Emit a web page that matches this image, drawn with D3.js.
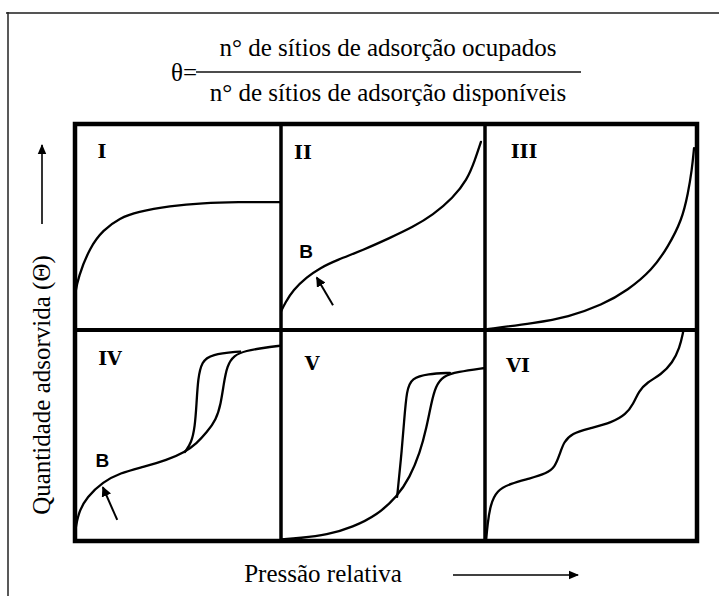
<!DOCTYPE html>
<html>
<head>
<meta charset="utf-8">
<script src="https://cdn.jsdelivr.net/npm/d3@7"></script>
<style>
  html, body { margin: 0; padding: 0; background: #fff; }
  svg { display: block; }
  .serif { font-family: "Liberation Serif", Tinos, "Times New Roman", "Noto Serif", "DejaVu Serif", serif; font-size: 25px; }
  .roman { font-family: "DejaVu Serif", serif; font-weight: bold; font-size: 19px; }
  .pointB { font-family: "Liberation Sans", Arial, sans-serif; font-weight: bold; font-size: 19px; }
</style>
</head>
<body>
<svg id="chart" width="719" height="596"></svg>
<script>
// Isotherm types I–VI (IUPAC): relative pressure (x, 0–1) vs amount adsorbed (y, 0–1)
const panelLabels = ["I", "II", "III", "IV", "V", "VI"];
const titleNumerator = "n\u00B0 de s\u00EDtios de adsor\u00E7\u00E3o ocupados";
const titleDenominator = "n\u00B0 de s\u00EDtios de adsor\u00E7\u00E3o dispon\u00EDveis";
const yLabel = "Quantidade adsorvida (\u0398)";
const xLabel = "Press\u00E3o relativa";

const isoI = [[0,0.17],[0.015,0.257],[0.073,0.403],[0.136,0.485],[0.218,0.544],[0.301,0.573],
  [0.461,0.602],[0.621,0.617],[0.786,0.621],[1.0,0.621]];
const isoII = [[0.0,0.09],[0.02,0.131],[0.059,0.194],[0.127,0.257],[0.191,0.301],[0.275,0.340],
  [0.402,0.388],[0.534,0.447],[0.647,0.500],[0.745,0.558],[0.843,0.641],[0.912,0.728],
  [0.951,0.825],[0.980,0.913]];
const isoIII = [[0.0,0.003],[0.236,0.034],[0.392,0.063],[0.552,0.121],[0.675,0.194],[0.788,0.291],
  [0.863,0.403],[0.929,0.534],[0.958,0.665],[0.976,0.777],[0.986,0.883]];
// type IV: adsorption branch and desorption branch (hysteresis loop)
const isoIVads = [[0.0,0.04],[0.015,0.133],[0.058,0.209],[0.136,0.280],[0.218,0.322],[0.330,0.351],
  [0.447,0.384],[0.534,0.422],[0.590,0.462],[0.640,0.515],[0.685,0.575],[0.708,0.650],
  [0.722,0.745],[0.738,0.830],[0.770,0.880],[0.830,0.902],[0.913,0.915],[1.0,0.926]];
const isoIVdes = [[0.534,0.422],[0.565,0.465],[0.582,0.540],[0.590,0.650],[0.597,0.770],
  [0.615,0.850],[0.660,0.885],[0.801,0.898]];
// type V: adsorption branch and desorption branch
const isoVads = [[0.0,0.008],[0.093,0.014],[0.225,0.028],[0.353,0.066],[0.471,0.123],[0.569,0.209],
  [0.632,0.303],[0.681,0.417],[0.714,0.540],[0.736,0.650],[0.758,0.735],[0.795,0.782],
  [0.863,0.801],[1.0,0.820]];
const isoVdes = [[0.569,0.209],[0.588,0.384],[0.604,0.573],[0.616,0.715],[0.640,0.772],
  [0.720,0.792],[0.828,0.797]];
const isoVI = [[0.005,0.0],[0.012,0.080],[0.025,0.170],[0.055,0.240],[0.120,0.272],[0.210,0.296],
  [0.290,0.320],[0.330,0.350],[0.352,0.410],[0.372,0.470],[0.410,0.510],[0.490,0.533],
  [0.600,0.562],[0.665,0.600],[0.700,0.650],[0.725,0.710],[0.765,0.752],[0.830,0.788],
  [0.885,0.845],[0.918,0.915],[0.934,0.986],[0.94,1.02]];

// point B markers (knee of types II and IV), in panel units
const pointB = [
  { panel: 1, label: [0.123, 0.35], tail: [0.255, 0.12], tip: [0.175, 0.255] },
  { panel: 3, label: [0.133, 0.35], tail: [0.205, 0.10], tip: [0.135, 0.255] }
];

const panelSeries = [[isoI], [isoII], [isoIII], [isoIVads, isoIVdes], [isoVads, isoVdes], [isoVI]];

const svg = d3.select("#chart");
const colEdges = [75, 281, 485, 697];
const rowEdges = [124, 330, 541];

// page frame
svg.append("line").attr("x1", 6).attr("x2", 719).attr("y1", 13).attr("y2", 13)
  .attr("stroke", "#555").attr("stroke-width", 2);
svg.append("line").attr("x1", 8).attr("x2", 8).attr("y1", 12).attr("y2", 596)
  .attr("stroke", "#222").attr("stroke-width", 1.5);

// formula
const cx = 388;
svg.append("text").attr("class", "serif").attr("x", cx).attr("y", 56)
  .attr("text-anchor", "middle").text(titleNumerator);
svg.append("text").attr("class", "serif").attr("x", cx).attr("y", 101)
  .attr("text-anchor", "middle").text(titleDenominator);
svg.append("line").attr("x1", 196).attr("x2", 581).attr("y1", 72).attr("y2", 72)
  .attr("stroke", "#111").attr("stroke-width", 1.6);
svg.append("text").attr("class", "serif").attr("x", 197).attr("y", 81)
  .attr("text-anchor", "end").text("\u03B8=");

// arrow markers
const defs = svg.append("defs");
defs.append("marker").attr("id", "ah").attr("viewBox", "0 0 10 10")
  .attr("refX", 9).attr("refY", 5).attr("markerWidth", 6.5).attr("markerHeight", 6.5)
  .attr("markerUnits", "strokeWidth").attr("orient", "auto")
  .append("path").attr("d", "M0,0.8 L10,5 L0,9.2 Z").attr("fill", "#000");
defs.append("marker").attr("id", "ahB").attr("viewBox", "0 0 10 10")
  .attr("refX", 9).attr("refY", 5).attr("markerWidth", 5).attr("markerHeight", 5)
  .attr("markerUnits", "strokeWidth").attr("orient", "auto")
  .append("path").attr("d", "M0,0 L10,5 L0,10 Z").attr("fill", "#000");

// panels
panelLabels.forEach((lab, i) => {
  const c = i % 3, r = Math.floor(i / 3);
  const x = d3.scaleLinear().domain([0, 1]).range([colEdges[c], colEdges[c + 1]]);
  const y = d3.scaleLinear().domain([0, 1]).range([rowEdges[r + 1], rowEdges[r]]);
  const id = "clip" + i;
  defs.append("clipPath").attr("id", id).append("rect")
    .attr("x", colEdges[c]).attr("y", rowEdges[r])
    .attr("width", colEdges[c + 1] - colEdges[c]).attr("height", rowEdges[r + 1] - rowEdges[r]);
  const g = svg.append("g").attr("clip-path", `url(#${id})`);
  const line = d3.line().x(d => x(d[0])).y(d => y(d[1])).curve(d3.curveBasis);
  panelSeries[i].forEach(s => {
    g.append("path").attr("d", line(s)).attr("fill", "none")
      .attr("stroke", "#000").attr("stroke-width", 2.3).attr("stroke-linecap", "round");
  });
  svg.append("text").attr("class", "roman")
    .attr("x", x(0) + [27, 22, 39, 35, 31, 33][i])
    .attr("y", y(1) + [34, 35, 34, 35, 40, 42][i])
    .attr("text-anchor", "middle").text(lab);
  pointB.filter(p => p.panel === i).forEach(p => {
    svg.append("text").attr("class", "pointB").attr("x", x(p.label[0])).attr("y", y(p.label[1]))
      .attr("text-anchor", "middle").text("B");
    svg.append("line").attr("x1", x(p.tail[0])).attr("y1", y(p.tail[1]))
      .attr("x2", x(p.tip[0])).attr("y2", y(p.tip[1]))
      .attr("stroke", "#000").attr("stroke-width", 2).attr("marker-end", "url(#ahB)");
  });
});

// grid of panel borders
svg.append("line").attr("x1", colEdges[0]).attr("x2", colEdges[3]).attr("y1", rowEdges[1]).attr("y2", rowEdges[1])
  .attr("stroke", "#000").attr("stroke-width", 4);
[colEdges[1], colEdges[2]].forEach(cxv => {
  svg.append("line").attr("x1", cxv).attr("x2", cxv).attr("y1", rowEdges[0]).attr("y2", rowEdges[2])
    .attr("stroke", "#000").attr("stroke-width", 3.5);
});
svg.append("rect").attr("x", colEdges[0]).attr("y", rowEdges[0])
  .attr("width", colEdges[3] - colEdges[0]).attr("height", rowEdges[2] - rowEdges[0])
  .attr("fill", "none").attr("stroke", "#000").attr("stroke-width", 4.5);

// axis captions with arrows
svg.append("text").attr("class", "serif").attr("transform", "translate(50,385) rotate(-90)")
  .attr("text-anchor", "middle").text(yLabel);
svg.append("line").attr("x1", 42).attr("x2", 42).attr("y1", 224).attr("y2", 145)
  .attr("stroke", "#000").attr("stroke-width", 1.6).attr("marker-end", "url(#ah)");
svg.append("text").attr("class", "serif").attr("x", 323).attr("y", 582)
  .attr("text-anchor", "middle").text(xLabel);
svg.append("line").attr("x1", 453).attr("x2", 578).attr("y1", 575).attr("y2", 575)
  .attr("stroke", "#000").attr("stroke-width", 1.6).attr("marker-end", "url(#ah)");
</script>
</body>
</html>
